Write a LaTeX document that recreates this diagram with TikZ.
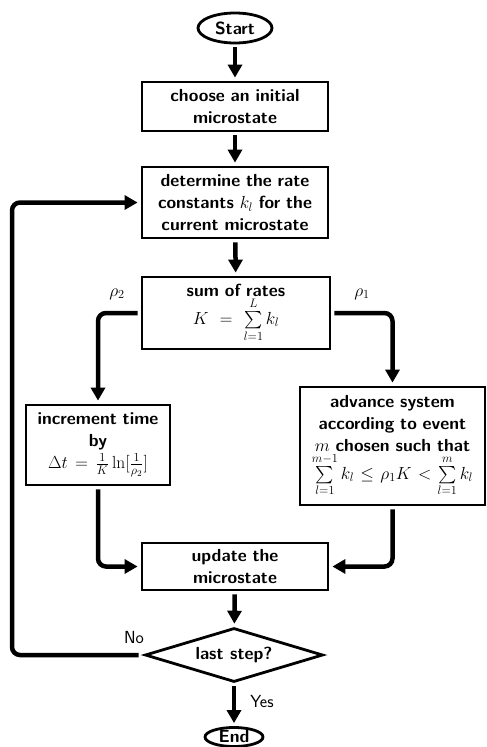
\RequirePackage{fix-cm}
\documentclass[tikz,border=0pt]{standalone}
\usepackage{exscale}
\usetikzlibrary{shapes.geometric,arrows.meta}
\begin{document}
\begin{tikzpicture}[x=1pt,y=-1pt,
  txt/.style={font=\fontsize{17.5}{22}\selectfont\sffamily\bfseries},
  lab/.style={font=\fontsize{17.5}{22}\selectfont\sffamily},
  mlab/.style={font=\fontsize{17.5}{22}\selectfont},
  box/.style={txt, draw, line width=2.8pt, align=center, inner sep=0pt, text width=180pt, minimum width=186pt},
  term/.style={txt, draw, ellipse, line width=2.8pt, inner sep=0pt},
  conn/.style={line width=4.5pt, -{Triangle[length=13pt,width=14pt]}, rounded corners=8pt, shorten >=3pt, shorten <=3pt}
]
\useasboundingbox (0,0) rectangle (487,747);

\node[term, minimum width=74pt, minimum height=30pt] (start) at (235,28) {Start};
\node[box, minimum height=49pt] (init) at (235,106.5) {choose an initial\\microstate};
\node[box, minimum height=71pt] (det) at (235,202.5) {determine the rate\\constants $k_l$ for the\\current microstate};
\node[box, minimum height=72pt, minimum width=188pt] (sum) at (236,313) {sum of rates\\$K=\sum\limits_{l=1}^{L}k_l$};
\node[box, minimum height=80pt, minimum width=144pt, text width=140pt] (inc) at (98,445) {increment time\\by\\$\Delta t=\frac{1}{K}\ln[\frac{1}{\rho_2}]$};
\node[box, minimum height=118pt, minimum width=185pt, text width=183pt] (adv) at (392.5,446) {advance system\\according to event\\$m$ chosen such that\\$\sum\limits_{l=1}^{m-1}k_l\le\rho_1K<\sum\limits_{l=1}^{m}k_l$};
\node[box, minimum height=47pt] (upd) at (235,566.5) {update the\\microstate};
\node[txt, draw, diamond, aspect=3.3, line width=2.8pt, minimum width=178pt, minimum height=54pt, inner sep=0pt] (last) at (234,655) {last step?};
\node[term, minimum width=58pt, minimum height=19pt] (end) at (234,737) {End};

\coordinate (loopx) at (12,0);

\draw[conn] (start) -- (init);
\draw[conn] (init) -- (det);
\draw[conn] (det) -- (sum);
\draw[conn] (sum.west) -| (inc.north);
\draw[conn] (sum.east) -| (adv.north);
\draw[conn] (inc.south) |- (upd.west);
\draw[conn] (adv.south) |- (upd.east);
\draw[conn] (upd) -- (last);
\draw[conn] (last.south) -- (end.north);
\draw[conn, shorten <=5pt] (last.west) -| (loopx |- det.west) -- (det.west);

\node[mlab] (r2) at (117,294) {$\rho_2$};
\node[mlab] (r1) at (362,294) {$\rho_1$};
\node[lab] (no) at (134,637) {No};
\node[lab] (yes) at (262,701) {Yes};
\end{tikzpicture}
\end{document}
